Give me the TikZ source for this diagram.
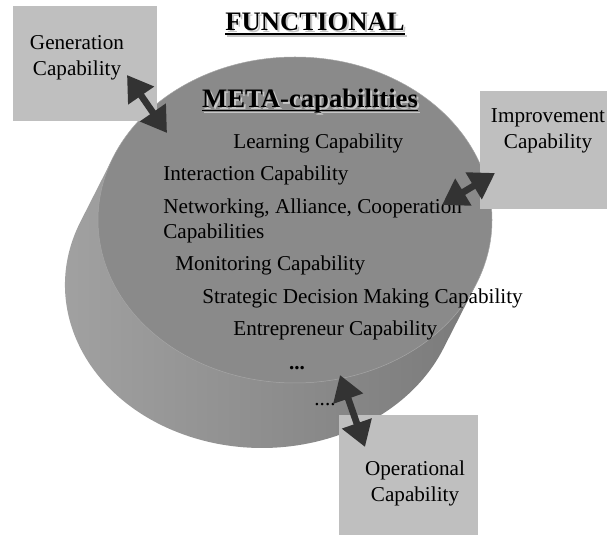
\documentclass[tikz,border=0pt]{standalone}
\usepackage{fontspec}
\setmainfont{Liberation Serif}
\usetikzlibrary{arrows.meta}
\newcommand\titleline[1]{\setbox0\hbox{#1}\rlap{\rule[-2.4pt]{\wd0}{1pt}}\box0}
\newcommand\shadowed[1]{\rlap{\hspace{1.2pt}\raisebox{-1.2pt}{\color{black!22}#1}}#1}
\begin{document}
\begin{tikzpicture}[x=0.6pt,y=-0.6pt,
	box/.style={fill=black!25},
	lbl/.style={font=\fontsize{12.7}{15.6}\selectfont,align=center,inner sep=0pt},
	item/.style={font=\fontsize{12.7}{15}\selectfont,anchor=west,inner sep=0pt},
	title/.style={font=\fontsize{16}{19}\selectfont\bfseries,inner sep=0pt},
	duo/.style={line width=4pt,draw=black!80,{Triangle[width=18pt,length=15pt]}-{Triangle[width=18pt,length=15pt]}}]
	\def\rx{197}
	\def\ry{163}
	\useasboundingbox (0,0) rectangle (607,535);
	% cylinder
	\shade[left color=black!36,right color=black!52] (113.4,156.8) -- (80.4,221.8) arc[start angle=202.8,end angle=22.8,x radius=\rx,y radius=\ry] -- (476.6,283.2) -- cycle;
	\filldraw[fill=black!46,draw=black!35,line width=0.3pt] (295,220) ellipse[x radius=\rx,y radius=\ry];
	% boxes
	\fill[box] (13,6) rectangle (157,121);
	\fill[box] (480,91) rectangle (607,209);
	\fill[box] (339,415) rectangle (478,535);
	\node[lbl] (gen) at (77,58) {Generation\\Capability};
	\node[lbl] (imp) at (548,130.5) {Improvement\\Capability};
	\node[lbl] (ope) at (415,483.5) {Operational\\Capability};
	\node[title] (func) at (315,25) {\shadowed{\titleline{FUNCTIONAL}}};
	\node[title] (meta) at (310,102) {\shadowed{\titleline{META-capabilities}}};
	\node[item] (learn) at (233,143) {Learning Capability};
	\node[item] (inter) at (163,175) {Interaction Capability};
	\node[item,align=left] (netw) at (163,220.5) {Networking, Alliance, Cooperation\\Capabilities};
	\node[item] (monit) at (175,265) {Monitoring Capability};
	\node[item] (strat) at (202,298) {Strategic Decision Making Capability};
	\node[item] (entre) at (233,330) {Entrepreneur Capability};
	\node[item,anchor=center] (dots) at (297,368) {\textbf{...}};
	\node[item,anchor=center] (dots2) at (325,405) {....};
	% arrows
	\coordinate (g1) at (127,75);
	\coordinate (g2) at (167,133);
	\coordinate (i1) at (442,205);
	\coordinate (i2) at (495,173);
	\coordinate (o1) at (340,375);
	\coordinate (o2) at (365,447);
	\draw[duo] (g1) -- (g2);
	\draw[duo] (i1) -- (i2);
	\draw[duo] (o1) -- (o2);
\end{tikzpicture}
\end{document}
